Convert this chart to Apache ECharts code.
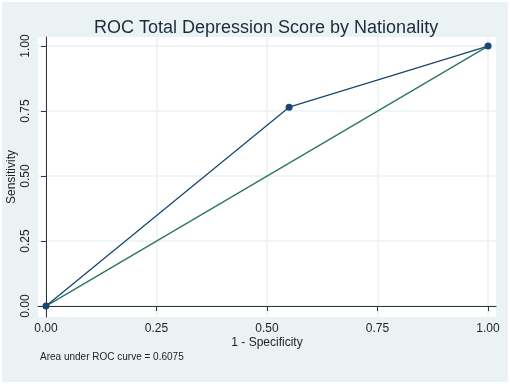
<!DOCTYPE html>
<html lang="en">
<head>
  <meta charset="UTF-8">
  <title>ROC</title>
  <script src="https://cdn.jsdelivr.net/npm/echarts@6/dist/echarts.min.js"></script>
  <style>
    html, body { margin: 0; padding: 0; background: #fff; }
    .mychart { width: 506px; height: 380px; margin: 2px; }
  </style>
</head>
<body>
  <div class="mychart"></div>
<script>
  // ROC points (1 - specificity, sensitivity)
  const rocX = [0, 0.55, 1];
  const rocY = [0, 0.765, 1];
  // reference diagonal
  const refX = [0, 1];
  const refY = [0, 1];
  const ticks = [0, 0.25, 0.5, 0.75, 1];

  const navy = '#1a476f';
  const green = '#2a7662';
  const textColor = '#1f1f1f';
  const gridColor = '#eaf2f3';

  const axisCommon = {
    type: 'value',
    min: -0.018,
    max: 1.018,
    axisLine: { show: true, lineStyle: { color: '#333', width: 1 } },
    axisTick: { show: true, length: 5, customValues: ticks, lineStyle: { color: '#333' } },
    splitLine: { show: true, lineStyle: { color: gridColor, width: 1.5 } },
    nameMoveOverlap: false,
    nameTextStyle: { color: textColor, fontSize: 12, fontFamily: 'Liberation Sans' },
  };

  const myChart = echarts.init(document.querySelector('.mychart'), null, { renderer: 'canvas' });
  myChart.setOption({
    backgroundColor: '#eaf2f3',
    animation: false,
    title: {
      text: 'ROC Total Depression Score by Nationality',
      left: 87,
      top: 12,
      textStyle: { color: '#1c2b3c', fontSize: 18, fontWeight: 'normal', fontFamily: 'Liberation Sans' },
    },
    graphic: [{
      type: 'text',
      left: 38,
      top: 350,
      style: { text: 'Area under ROC curve = 0.6075', fill: textColor, fontSize: 10, fontFamily: 'Liberation Sans' },
    }],
    grid: {
      left: 36, right: 12, top: 35, bottom: 65,
      outerBoundsMode: 'none',
      containLabel: false,
      show: true, backgroundColor: '#fff', borderWidth: 0,
    },
    xAxis: {
      ...axisCommon,
      name: '1 - Specificity',
      nameLocation: 'middle',
      nameGap: 20,
      axisLabel: {
        customValues: ticks,
        formatter: (v) => v.toFixed(2),
        color: textColor, fontSize: 12, fontFamily: 'Liberation Sans', margin: 6,
      },
    },
    yAxis: {
      ...axisCommon,
      min: -0.042,
      max: 1.035,
      name: 'Sensitivity',
      nameLocation: 'middle',
      nameGap: 20,
      axisLabel: {
        customValues: ticks,
        formatter: (v) => v.toFixed(2),
        rotate: 90,
        color: textColor, fontSize: 12, fontFamily: 'Liberation Sans', margin: 6,
      },
    },
    series: [
      {
        type: 'line',
        data: refX.map((x, i) => [x, refY[i]]),
        showSymbol: false,
        lineStyle: { color: green, width: 1.3 },
        z: 2,
      },
      {
        type: 'line',
        data: rocX.map((x, i) => [x, rocY[i]]),
        symbol: 'circle',
        symbolSize: 7,
        itemStyle: { color: navy },
        lineStyle: { color: navy, width: 1.3 },
        z: 3,
      },
    ],
  });
</script>
</body>
</html>
